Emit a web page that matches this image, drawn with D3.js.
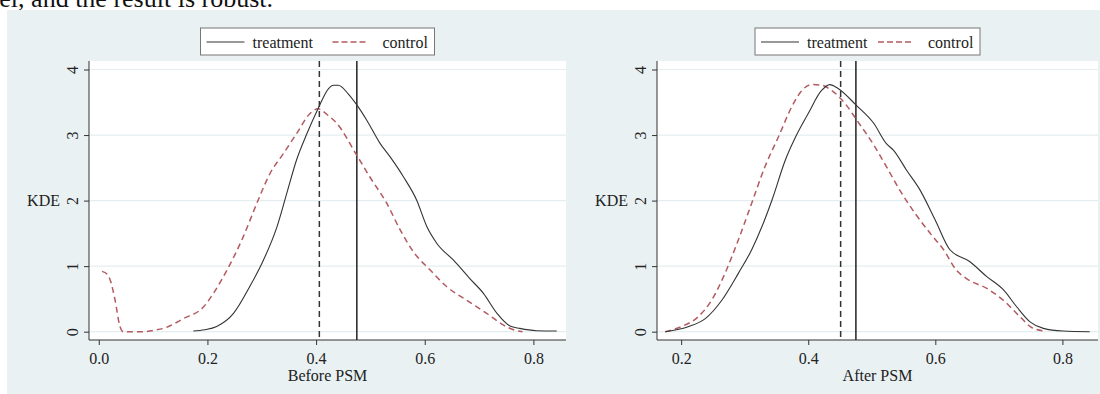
<!DOCTYPE html>
<html lang="en">
<head>
<meta charset="UTF-8">
<title>KDE before / after PSM</title>
<style>
  body { margin: 0; background: #fff; }
  svg text { font-family: "Liberation Serif", "Times New Roman", serif; fill: #222; }
  .axis path, .axis line { stroke: #333; }
</style>
</head>
<body>
<div id="chart"></div>
<script src="https://d3js.org/d3.v7.min.js"></script>
<script>
// ---- data ----
const yTicks = [0, 1, 2, 3, 4];
const xTicksBefore = [0.0, 0.2, 0.4, 0.6, 0.8];
const xTicksAfter = [0.2, 0.4, 0.6, 0.8];
const seriesNames = ["treatment", "control"];

// before PSM
const beforeTreatX = [0.174, 0.195, 0.217, 0.248, 0.278, 0.303, 0.328, 0.346, 0.364, 0.383, 0.404, 0.423, 0.432, 0.441, 0.459, 0.475, 0.493, 0.518, 0.536, 0.561, 0.585, 0.604, 0.622, 0.653, 0.683, 0.708, 0.733, 0.757, 0.775, 0.806, 0.843];
const beforeTreatY = [0.01, 0.03, 0.08, 0.28, 0.69, 1.09, 1.60, 2.11, 2.62, 3.02, 3.41, 3.71, 3.76, 3.76, 3.63, 3.46, 3.23, 2.87, 2.67, 2.36, 2.01, 1.60, 1.35, 1.09, 0.81, 0.585, 0.28, 0.087, 0.05, 0.015, 0.01];
const beforeCtrlX = [0.006, 0.015, 0.021, 0.030, 0.039, 0.045, 0.060, 0.082, 0.100, 0.119, 0.156, 0.193, 0.211, 0.236, 0.266, 0.291, 0.315, 0.340, 0.364, 0.389, 0.404, 0.422, 0.438, 0.475, 0.499, 0.530, 0.555, 0.579, 0.610, 0.640, 0.677, 0.714, 0.745, 0.769, 0.780];
const beforeCtrlY = [0.92, 0.88, 0.79, 0.48, 0.08, 0.0, 0.0, 0.0, 0.02, 0.05, 0.20, 0.38, 0.585, 0.94, 1.45, 1.96, 2.41, 2.72, 3.02, 3.33, 3.40, 3.30, 3.18, 2.69, 2.36, 1.96, 1.55, 1.22, 0.94, 0.69, 0.48, 0.28, 0.10, 0.015, 0.0];
const beforeMeans = [0.475, 0.406]; // treatment, control

// after PSM
const afterTreatX = [0.175, 0.212, 0.238, 0.264, 0.290, 0.311, 0.327, 0.343, 0.364, 0.380, 0.400, 0.421, 0.434, 0.447, 0.475, 0.503, 0.523, 0.534, 0.555, 0.576, 0.600, 0.623, 0.654, 0.681, 0.707, 0.728, 0.749, 0.770, 0.801, 0.843];
const afterTreatY = [0.0, 0.08, 0.20, 0.48, 0.89, 1.25, 1.60, 2.01, 2.62, 2.97, 3.33, 3.68, 3.77, 3.71, 3.46, 3.18, 2.87, 2.77, 2.46, 2.16, 1.70, 1.25, 1.07, 0.84, 0.64, 0.38, 0.15, 0.05, 0.01, 0.0];
const afterCtrlX = [0.175, 0.201, 0.227, 0.248, 0.269, 0.290, 0.311, 0.332, 0.353, 0.374, 0.390, 0.405, 0.421, 0.437, 0.458, 0.477, 0.503, 0.523, 0.544, 0.570, 0.592, 0.613, 0.633, 0.649, 0.681, 0.707, 0.733, 0.754, 0.773];
const afterCtrlY = [0.0, 0.08, 0.23, 0.48, 0.89, 1.40, 1.96, 2.52, 2.97, 3.43, 3.68, 3.77, 3.76, 3.68, 3.48, 3.22, 2.85, 2.52, 2.16, 1.78, 1.50, 1.25, 0.94, 0.81, 0.66, 0.48, 0.23, 0.05, 0.01];
const afterMeans = [0.475, 0.451];

const W = 1100, H = 394;
const ctrlColor = "#b35a60";

const svg = d3.select("#chart").append("svg")
    .attr("width", W).attr("height", H);

// cropped line of paper text above the figure
svg.append("text")
    .attr("x", 273).attr("y", 7)
    .attr("text-anchor", "end")
    .style("font-size", "26px")
    .style("fill", "#111")
    .text("level, and the result is robust.");

svg.append("rect")
    .attr("x", 7).attr("y", 10).attr("width", W - 7).attr("height", H - 10)
    .attr("fill", "#e9f1f3");

const zip = (xs, ys) => xs.map((x, i) => [x, ys[i]]);

function drawPanel(opt) {
    const top = 61, bottom = 340;
    const x = d3.scaleLinear().domain(opt.xDomain).range([opt.left, opt.right]);
    const y = d3.scaleLinear().domain([-0.127, 4.13]).range([bottom, top]);
    const g = svg.append("g");

    g.append("rect")
        .attr("x", opt.left).attr("y", top)
        .attr("width", opt.right - opt.left).attr("height", bottom - top)
        .attr("fill", "#fff");

    // grid
    g.selectAll(".grid").data(yTicks).join("line")
        .attr("x1", opt.left).attr("x2", opt.right)
        .attr("y1", d => y(d)).attr("y2", d => y(d))
        .attr("stroke", "#e4eef0").attr("stroke-width", 1.2);

    // mean lines
    g.append("line")
        .attr("x1", x(opt.means[1])).attr("x2", x(opt.means[1]))
        .attr("y1", top).attr("y2", bottom)
        .attr("stroke", "#333").attr("stroke-width", 1.5)
        .attr("stroke-dasharray", "6,4");
    g.append("line")
        .attr("x1", x(opt.means[0])).attr("x2", x(opt.means[0]))
        .attr("y1", top).attr("y2", bottom)
        .attr("stroke", "#222").attr("stroke-width", 1.5);

    const line = d3.line()
        .x(d => x(d[0])).y(d => y(d[1]))
        .curve(d3.curveMonotoneX);

    g.append("path")
        .datum(zip(opt.ctrlX, opt.ctrlY))
        .attr("d", line)
        .attr("fill", "none").attr("stroke", ctrlColor)
        .attr("stroke-width", 1.5).attr("stroke-dasharray", "6,4");
    g.append("path")
        .datum(zip(opt.treatX, opt.treatY))
        .attr("d", line)
        .attr("fill", "none").attr("stroke", "#333")
        .attr("stroke-width", 1.1);

    // axes
    const ax = g.append("g").attr("class", "axis")
        .attr("transform", `translate(0,${bottom})`)
        .call(d3.axisBottom(x).tickValues(opt.xTicks).tickFormat(d3.format(".1f")).tickSize(5).tickSizeOuter(0));
    ax.selectAll("text").attr("y", 23.5).attr("dy", 0).style("font-size", "16px");

    const ay = g.append("g").attr("class", "axis")
        .attr("transform", `translate(${opt.left},0)`)
        .call(d3.axisLeft(y).tickValues(yTicks).tickFormat(d3.format("d")).tickSize(5).tickSizeOuter(0));
    ay.selectAll("text")
        .attr("transform", "rotate(-90)")
        .attr("x", 0).attr("y", -11).attr("dy", 0)
        .style("text-anchor", "middle")
        .style("font-size", "16px");
    ay.select(".domain").attr("d", `M0,${top}V${bottom}`);
    ax.select(".domain").attr("d", `M${opt.left},0H${opt.right}`);

    g.append("text")
        .attr("x", opt.left - 29).attr("y", 206)
        .attr("text-anchor", "end")
        .style("font-size", "16px")
        .text("KDE");

    g.append("text")
        .attr("x", (opt.left + opt.right) / 2).attr("y", 381)
        .attr("text-anchor", "middle")
        .style("font-size", "16px")
        .text(opt.title);

    // legend
    const lw = opt.legendW, lx = (opt.left + opt.right) / 2 - 10 - lw / 2;
    const lg = g.append("g").attr("transform", `translate(${lx},28)`);
    lg.append("rect").attr("width", lw).attr("height", 27)
        .attr("fill", "#fff").attr("stroke", "#777").attr("stroke-width", 1);
    lg.append("line").attr("x1", 6).attr("x2", 44).attr("y1", 14).attr("y2", 14)
        .attr("stroke", "#333").attr("stroke-width", 1.1);
    lg.append("text").attr("x", 52).attr("y", 20).style("font-size", "16px").text(seriesNames[0]);
    lg.append("line").attr("x1", lw - 102).attr("x2", lw - 68).attr("y1", 14).attr("y2", 14)
        .attr("stroke", ctrlColor).attr("stroke-width", 1.5).attr("stroke-dasharray", "6,3");
    lg.append("text").attr("x", lw - 52).attr("y", 20).style("font-size", "16px").text(seriesNames[1]);
}

drawPanel({
    left: 89, right: 566, xDomain: [-0.018, 0.86], xTicks: xTicksBefore,
    treatX: beforeTreatX, treatY: beforeTreatY, ctrlX: beforeCtrlX, ctrlY: beforeCtrlY,
    means: beforeMeans, title: "Before PSM", legendW: 234
});
drawPanel({
    left: 657, right: 1098, xDomain: [0.162, 0.856], xTicks: xTicksAfter,
    treatX: afterTreatX, treatY: afterTreatY, ctrlX: afterCtrlX, ctrlY: afterCtrlY,
    means: afterMeans, title: "After PSM", legendW: 225
});
</script>
</body>
</html>
